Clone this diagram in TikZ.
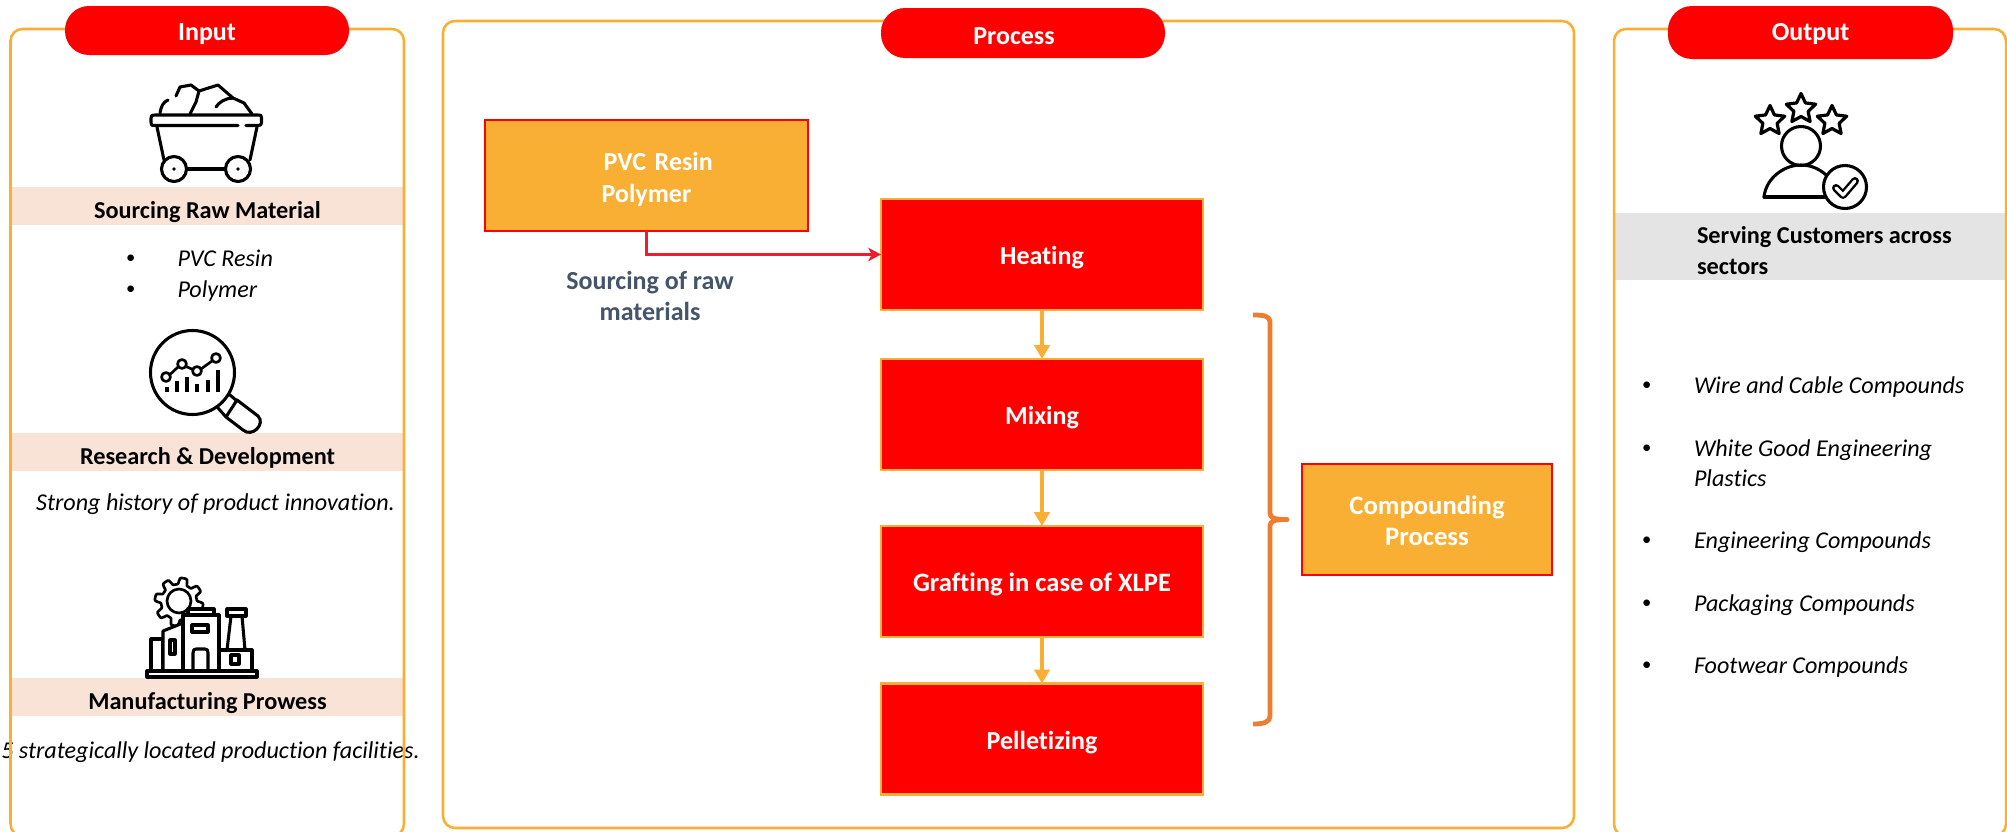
\documentclass[tikz,border=0pt]{standalone}
\usepackage{fontspec}
\setmainfont[Ligatures={NoCommon}]{Carlito}
\usetikzlibrary{arrows.meta}
\definecolor{panelc}{HTML}{F9AE34}
\definecolor{pillred}{HTML}{FF0000}
\definecolor{bandc}{HTML}{F9E3D6}
\definecolor{greyb}{HTML}{E4E4E4}
\definecolor{slatec}{HTML}{44546A}
\definecolor{linkred}{HTML}{ED1C2E}
\definecolor{bracec}{HTML}{ED7D31}
\newcommand{\fsw}{\fontsize{19.5}{23.6}\selectfont}
\newcommand{\fsb}{\fontsize{18.2}{22.5}\selectfont}
\newcommand{\fsi}{\fontsize{18.1}{22.5}\selectfont}
\tikzset{
  base/.style={inner sep=0pt,outer sep=0pt},
  panel/.style={base,draw=panelc,line width=1.9pt,rounded corners=9pt},
  pill/.style={base,fill=pillred,text=white,rounded corners=18pt,font=\fsw\bfseries,text depth=0pt},
  band/.style={base,font=\fsb\bfseries,minimum width={391*0.75pt},minimum height={38*0.75pt},text height=18.7pt,text depth=0pt},
  redbox/.style={base,fill=pillred,draw=panelc,line width=1.9pt,text=white,font=\fsw\bfseries,minimum width={322*0.75pt},minimum height={111*0.75pt},text height=15.5pt,text depth=0pt},
  orbox/.style={base,fill=panelc,draw=pillred,line width=2.2pt,text=white,font=\fsw\bfseries,minimum height={111*0.75pt}},
  itxt/.style={base,anchor=base west,font=\fsi\itshape},
  itxc/.style={base,anchor=base,font=\fsi\itshape},
  btxt/.style={base,anchor=base west,font=\fsb\bfseries},
  bullet/.style={base,anchor=base west,font=\fontsize{14}{16}\selectfont},
  flow/.style={draw=panelc,line width=3.4pt,-{Triangle[length=10.5pt,width=11.5pt]}},
  link/.style={draw=linkred,line width=2.5pt,-{Stealth[length=9.5pt,width=10pt,inset=2.5pt]}},
  icon/.style={draw=black,line width=2.3pt,line cap=round,line join=round},
  iconf/.style={icon,fill=white},
}
\newcommand{\starshape}[2]{%
  \draw[icon,line width=2.4pt] plot[samples at={0,1,...,10}]
    ({#1+(mod(\x,2)==0?15.5:7.5)*cos(-90+36*\x)},{#2+(mod(\x,2)==0?15.5:7.5)*sin(-90+36*\x)}) -- cycle;}
\begin{document}
\begin{tikzpicture}[x=0.75pt,y=-0.75pt]
\clip (0,0) rectangle (2007,832);
\fill[white] (0,0) rectangle (2007,832);
% ---------- Input column: text under the frame
\node[band,fill=bandc] (b1) at (207.5,206) {Sourcing Raw Material};
\node[band,fill=bandc] (b2) at (207.5,452) {Research \& Development};
\node[band,fill=bandc] (b3) at (207.5,697) {Manufacturing Prowess};
\node[bullet] (d1) at (126,263.5) {•};
\node[itxt] (t1) at (177.5,266) {PVC Resin};
\node[bullet] (d2) at (126,294.5) {•};
\node[itxt] (t2) at (177.5,297) {Polymer};
\node[itxc] (t3) at (215.5,510) {Strong history of product innovation.};
\node[itxc] (t4) at (210.5,758) {5 strategically located production facilities.};
\node[panel,minimum width={393.5*0.75pt},minimum height={807*0.75pt}] (inputpanel) at (207.25,432.5) {};
\node[pill,minimum width={284*0.75pt},minimum height={49*0.75pt},text height=14.25pt] (inputpill) at (207,30.5) {Input};
% ---------- Process column
\node[panel,minimum width={1131*0.75pt},minimum height={807*0.75pt}] (processpanel) at (1008.5,424.5) {};
\node[pill,minimum width={284*0.75pt},minimum height={50*0.75pt},text height=16.5pt] (processpill) at (1023,33) {Process\hspace*{13.5pt}};
\node[orbox,minimum width={323*0.75pt},text width={323*0.75pt},align=left] (pvc) at (646.5,175.5) {\rule{0pt}{19.5pt}\hspace*{89pt}PVC Resin\\\hspace*{87.5pt}Polymer};
\node[base,text=slatec,font=\fsw\bfseries,align=center,anchor=base] (src) at (650,320.5) {Sourcing of raw\\materials};
\node[redbox] (heat) at (1042,254.5) {Heating};
\node[redbox] (mix) at (1042,414.5) {Mixing};
\node[redbox,font=\fontsize{19.9}{24}\selectfont\bfseries] (graft) at (1042,581.5) {Grafting in case of XLPE};
\node[redbox] (pellet) at (1042,739) {Pelletizing};
\node[orbox,minimum width={250*0.75pt},align=center,font=\fontsize{20}{23.6}\selectfont\bfseries] (comp) at (1427,519.5) {\rule{0pt}{16pt}Compounding\\Process};
\draw[link] (pvc.south) |- (heat.west);
\draw[flow] (heat.south) -- (mix.north);
\draw[flow] (mix.south) -- (graft.north);
\draw[flow] (graft.south) -- (pellet.north);
\draw[draw=bracec,line width=3.6pt,line join=round]
  (1253,315) .. controls (1264,315) and (1270,316) .. (1270,322) -- (1270,513)
  .. controls (1270,518) and (1274,519.5) .. (1287,519.5)
  .. controls (1274,519.5) and (1270,521) .. (1270,526) -- (1270,716)
  .. controls (1270,722) and (1264,724) .. (1253,724);
% ---------- Output column
\node[base,fill=greyb,minimum width={392*0.75pt},minimum height={67*0.75pt}] (b4) at (1811,246.5) {};
\node[btxt] (s1) at (1697,243.5) {Serving Customers across};
\node[btxt] (s2) at (1697,274) {sectors};
\node[panel,minimum width={392*0.75pt},minimum height={807*0.75pt}] (outputpanel) at (1810,432.5) {};
\node[pill,minimum width={285*0.75pt},minimum height={53*0.75pt},text height=11.25pt] (outputpill) at (1810.5,32.5) {Output};
\foreach \n/\yy/\tt in {o1/393/Wire and Cable Compounds,o2/456/White Good Engineering,o3/548/Engineering Compounds,o4/611/Packaging Compounds,o5/673/Footwear Compounds}{
  \node[bullet] (d\n) at (1642,\yy-2.5) {•};
  \node[itxt] (\n) at (1694,\yy) {\tt};
}
\node[itxt] (o2b) at (1694,486) {Plastics};
% ---------- Cart icon
\draw[icon] (238,125.5) -- (155,125.5) .. controls (151,125.5) and (151,125) .. (151,122) -- (151,118) .. controls (151,115) and (152,115) .. (155,115) -- (258,115) .. controls (261,115) and (261.5,115) .. (261.5,118) -- (261.5,122) .. controls (261.5,125) and (261,125.5) .. (258,125.5) -- (246,125.5);
\draw[icon] (157,127) -- (164,160);
\draw[icon] (257,127) -- (250,160);
\draw[icon] (174,169) circle (12.5);
\draw[icon] (238,169) circle (12.5);
\fill (174,169) circle (1.8);
\fill (238,169) circle (1.8);
\draw[icon] (187,169) -- (225,169);
\draw[icon] (160,113) .. controls (161,107) and (163,102) .. (168,100);
\draw[icon] (176,96) -- (180,87) -- (191,85) -- (199,91) -- (218,85) -- (233,98) -- (244,103) -- (252,114);
\draw[icon] (199,91) -- (196,102) -- (190,114);
\draw[icon] (216,107) .. controls (219,102) and (226,98) .. (233,98);
% ---------- Magnifier icon
\draw[icon] (192.5,372.5) circle (42);
\draw[icon] (230,395) -- (237,401) (218,408) -- (226,417);
\draw[icon] (237,400) -- (258,416) .. controls (266,424) and (252,438) .. (243,430) -- (226,417) -- cycle;
\draw[icon,line width=2pt] (169.5,375) -- (178,367) (186,366.5) -- (193,369.5) (201,369) -- (212,361);
\draw[icon,line width=2pt] (166,377) circle (4.5) (182,364) circle (4.5) (197,371) circle (4.5) (216,358) circle (4.5);
\draw[icon,line width=2.5pt,line cap=butt] (167,387) -- (167,392) (177,381) -- (177,392) (187,377) -- (187,392) (197,384) -- (197,392) (208,380) -- (208,392) (218,370) -- (218,392);
% ---------- Factory icon
\draw[icon,line width=2pt] plot[domain=0:360,samples=145] ({179+(21+3.2*tanh(3*sin(8*\x)))*cos(\x)},{602+(21+3.2*tanh(3*sin(8*\x)))*sin(\x)});
\draw[icon,line width=2pt] (179,601) circle (12);
\draw[iconf] (188,615) -- (188,609) -- (214,609) -- (214,615);
\draw[iconf] (151,670) -- (151,639) -- (163,639) -- (163,670);
\draw[iconf] (163,670) -- (163,631) -- (183,623) -- (183,670);
\draw[iconf] (183,670) -- (183,615) -- (219,615) -- (219,670);
\draw[iconf] (192,625) rectangle (208,632);
\draw[iconf] (193,670) -- (193,653) .. controls (193,650) and (194,649) .. (196,649) -- (205,649) .. controls (207,649) and (208,650) .. (208,653) -- (208,670);
\draw[iconf] (170,640) rectangle (175,654);
\draw[iconf] (227,650) -- (231,616) -- (242,616) -- (245,650);
\draw[iconf] (227,609) rectangle (246,616);
\draw[iconf] (219,650) -- (252,650) -- (252,670);
\draw[iconf] (231,655) rectangle (239,664);
\draw[iconf] (147,671) rectangle (257,677);
% ---------- Customer icon
\starshape{1770}{121}
\starshape{1801}{109}
\starshape{1832}{121}
\draw[icon] (1801,146) circle (19.5);
\draw[icon] (1764,197) .. controls (1766,178) and (1784,165) .. (1801,165) .. controls (1812,165) and (1822,170) .. (1829,178);
\draw[icon] (1764,197) -- (1824,197);
\draw[iconf] (1845,187) circle (21.5);
\draw[black,line width=6pt,line cap=round,line join=round] (1836,188) -- (1843,195) -- (1855,181);
\draw[white,line width=2.4pt,line cap=round,line join=round] (1836,188) -- (1843,195) -- (1855,181);
\end{tikzpicture}
\end{document}
